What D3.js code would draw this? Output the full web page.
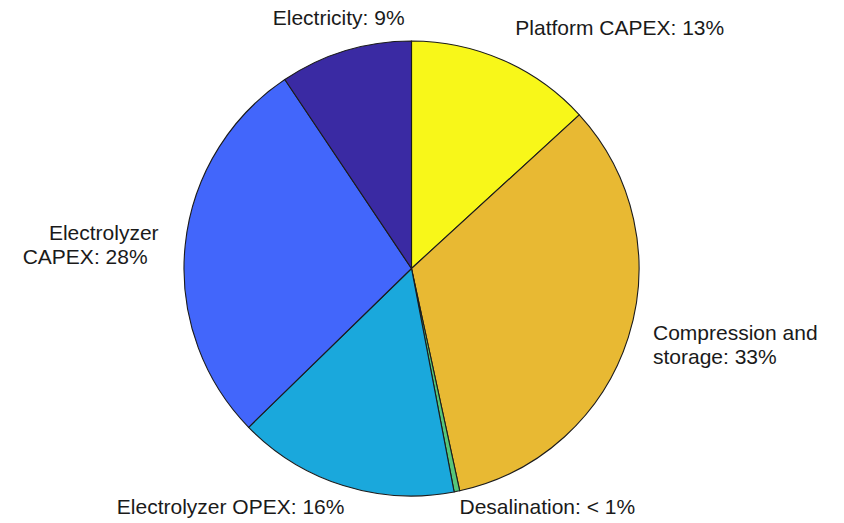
<!DOCTYPE html>
<html>
<head>
<meta charset="utf-8">
<script src="https://cdn.jsdelivr.net/npm/d3@7"></script>
<style>
  html, body { margin: 0; padding: 0; background: #ffffff; }
  svg { display: block; }
  text { font-family: "Liberation Sans", Arial, sans-serif; font-size: 21px; fill: #1a1a1a; }
</style>
</head>
<body>
<svg id="chart" width="844" height="523"></svg>
<script>
// Cost breakdown (share of total, %), clockwise from 12 o'clock
const categories = [
  "Platform CAPEX",
  "Compression and\nstorage",
  "Desalination",
  "Electrolyzer OPEX",
  "Electrolyzer\nCAPEX",
  "Electricity"
];
const shares = [13.2, 33.4, 0.4, 15.7, 27.9, 9.4];
const colors = ["#f8f719", "#e8b933", "#56c67a", "#1aa8dc", "#4266fb", "#3a2aa3"];

// Label placement around the pie: anchor, vertical alignment, nudges, per-line shift
const labelLayout = [
  { anchor: "start",  valign: "bottom", dx: 3,  dy: 0,  lineDx: [0] },
  { anchor: "start",  valign: "middle", dx: 3,  dy: 0,  lineDx: [0, 0] },
  { anchor: "start",  valign: "middle", dx: -2, dy: -7, lineDx: [0] },
  { anchor: "end",    valign: "middle", dx: 8,  dy: -1, lineDx: [0] },
  { anchor: "end",    valign: "middle", dx: -4, dy: 2,  lineDx: [0, -11] },
  { anchor: "middle", valign: "bottom", dx: 0,  dy: 0,  lineDx: [0] }
];

const width = 844, height = 523;
const cx = 411.5, cy = 268.5, radius = 227.5;
const labelRadius = radius * 1.1;
const lineHeight = 24.5;
const capHalf = 7.5;
const descent = 4.5;

const svg = d3.select("#chart");
const g = svg.append("g").attr("transform", `translate(${cx},${cy})`);

const data = categories.map((c, i) => ({ name: c, value: shares[i], color: colors[i], layout: labelLayout[i] }));

const pie = d3.pie().sort(null).value(d => d.value);
const arc = d3.arc().innerRadius(0).outerRadius(radius);
const arcs = pie(data);

g.selectAll("path.slice")
  .data(arcs)
  .join("path")
  .attr("class", "slice")
  .attr("d", arc)
  .attr("fill", d => d.data.color)
  .attr("stroke", "#1b1b1b")
  .attr("stroke-width", 1.1)
  .attr("stroke-linejoin", "round");

function pctText(v) {
  return v < 1 ? "< 1%" : Math.round(v) + "%";
}

const labels = g.selectAll("text.label")
  .data(arcs)
  .join("text")
  .attr("class", "label")
  .attr("text-anchor", d => d.data.layout.anchor)
  .each(function (d) {
    const mid = (d.startAngle + d.endAngle) / 2;
    const L = d.data.layout;
    const x = labelRadius * Math.sin(mid) + L.dx;
    const y = -labelRadius * Math.cos(mid) + L.dy;
    const lines = (d.data.name + ": " + pctText(d.data.value)).split("\n");
    const n = lines.length;
    let first;
    if (L.valign === "bottom") first = y - descent - (n - 1) * lineHeight;
    else first = y - (n - 1) * lineHeight / 2 + capHalf;
    const t = d3.select(this);
    lines.forEach((ln, i) => {
      t.append("tspan")
        .attr("x", x + (L.lineDx[i] || 0))
        .attr("y", first + i * lineHeight)
        .text(ln);
    });
  });
</script>
</body>
</html>
